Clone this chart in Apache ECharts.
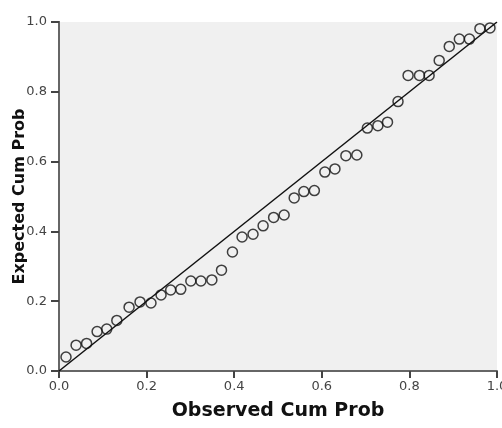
<!DOCTYPE html>
<html>
<head>
<meta charset="utf-8">
<script src="https://cdn.jsdelivr.net/npm/echarts@6/dist/echarts.min.js"></script>
<style>
  html, body { margin: 0; padding: 0; background: #fff; }
  #main { width: 502px; height: 428px; }
</style>
</head>
<body>
<div id="main"></div>
<script>
// observed vs expected cumulative probabilities
var obsProb = [0.016, 0.039, 0.063, 0.087, 0.109, 0.132, 0.160, 0.185, 0.210, 0.233,
               0.255, 0.278, 0.301, 0.324, 0.349, 0.371, 0.396, 0.418, 0.443, 0.466,
               0.490, 0.514, 0.537, 0.559, 0.583, 0.607, 0.630, 0.655, 0.680, 0.704,
               0.728, 0.750, 0.774, 0.797, 0.823, 0.845, 0.868, 0.891, 0.914, 0.937,
               0.961, 0.984];
var expProb = [0.040, 0.074, 0.079, 0.113, 0.120, 0.145, 0.183, 0.198, 0.195, 0.218,
               0.232, 0.234, 0.258, 0.258, 0.261, 0.289, 0.341, 0.384, 0.392, 0.416,
               0.440, 0.447, 0.496, 0.514, 0.517, 0.570, 0.579, 0.617, 0.619, 0.696,
               0.703, 0.713, 0.772, 0.847, 0.847, 0.847, 0.890, 0.930, 0.951, 0.951,
               0.981, 0.983];
var refLine = [0, 1];
var tickLabels = ['0.0', '0.2', '0.4', '0.6', '0.8', '1.0'];

var myChart = echarts.init(document.getElementById('main'));

var points = [];
for (var i = 0; i < obsProb.length; i++) {
    points.push([obsProb[i], expProb[i]]);
}
var diag = [];
for (var j = 0; j < refLine.length; j++) {
    diag.push([refLine[j], refLine[j]]);
}

function fmt(v) {
    return tickLabels[Math.round(v / 0.2)];
}

myChart.setOption({
    animation: false,
    grid: {
        left: 59, right: 5, top: 22, bottom: 57,
        containLabel: false,
        outerBoundsMode: 'none',
        show: true,
        backgroundColor: '#f0f0f0',
        borderWidth: 0
    },
    xAxis: [{
        type: 'value',
        min: 0, max: 1, interval: 0.2,
        name: 'Observed Cum Prob',
        nameLocation: 'middle',
        nameGap: 31,
        nameTextStyle: { fontFamily: 'DejaVu Sans', fontWeight: 'bold', fontSize: 19, color: '#111' },
        axisLine: { lineStyle: { color: '#cfcfcf', width: 1 } },
        axisTick: { length: 7, lineStyle: { color: '#444', width: 2 } },
        axisLabel: { formatter: fmt, margin: 9, fontFamily: 'DejaVu Sans', fontSize: 13, color: '#444' },
        splitLine: { show: false }
    }, {
        type: 'value', position: 'top',
        min: 0, max: 1,
        axisLine: { show: true, lineStyle: { color: '#666', width: 2 } },
        axisTick: { show: false },
        axisLabel: { show: false },
        splitLine: { show: false }
    }],
    yAxis: [{
        type: 'value',
        min: 0, max: 1, interval: 0.2,
        name: 'Expected Cum Prob',
        nameLocation: 'middle',
        nameGap: 31,
        nameMoveOverlap: false,
        nameTextStyle: { fontFamily: 'DejaVu Sans', fontWeight: 'bold', fontSize: 16, color: '#111' },
        axisLine: { show: true, lineStyle: { color: '#444', width: 2 } },
        axisTick: { length: 8, lineStyle: { color: '#444', width: 2 } },
        axisLabel: { formatter: fmt, margin: 12, fontFamily: 'DejaVu Sans', fontSize: 13, color: '#444' },
        splitLine: { show: false }
    }, {
        type: 'value', position: 'right',
        min: 0, max: 1,
        axisLine: { show: true, lineStyle: { color: '#666', width: 2 } },
        axisTick: { show: false },
        axisLabel: { show: false },
        splitLine: { show: false }
    }],
    series: [
        {
            type: 'line',
            data: diag,
            symbol: 'none',
            lineStyle: { color: '#111', width: 1.5 },
            z: 2
        },
        {
            type: 'scatter',
            data: points,
            symbol: 'circle',
            symbolSize: 10,
            itemStyle: { color: 'rgba(0,0,0,0)', borderColor: '#111', borderWidth: 1.5 },
            z: 3
        }
    ]
});
</script>
</body>
</html>
